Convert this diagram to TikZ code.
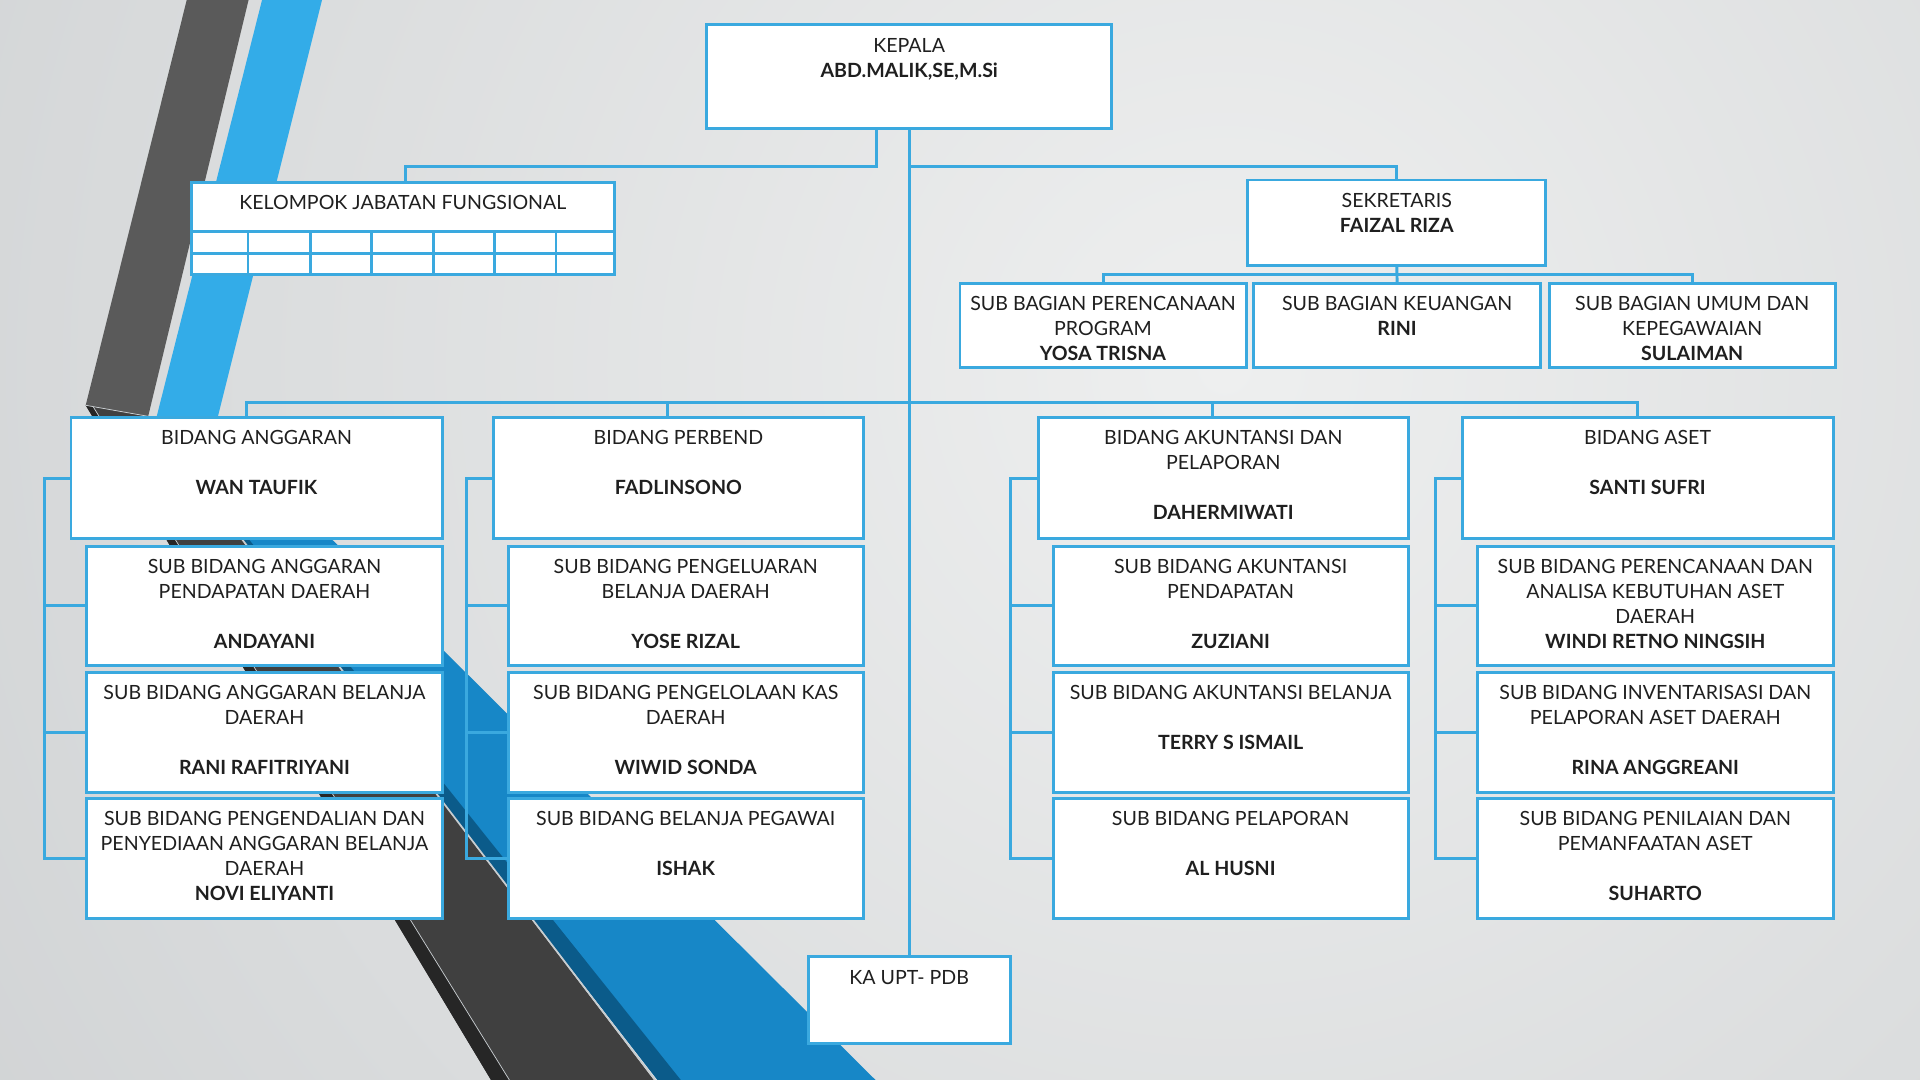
\documentclass[tikz,border=0pt]{standalone}
\usepackage{fontspec}
\setmainfont{Lato}
\definecolor{lb}{RGB}{58,169,223}
\definecolor{bgin}{RGB}{238,239,239}
\definecolor{bgout}{RGB}{178,182,185}
\definecolor{darkup}{RGB}{90,90,90}
\definecolor{darklow}{RGB}{64,64,64}
\definecolor{blackedge}{RGB}{38,38,38}
\definecolor{blueup}{RGB}{51,172,232}
\definecolor{bluelow}{RGB}{23,135,199}
\definecolor{blueedge}{RGB}{11,91,138}
\definecolor{sepline}{RGB}{200,205,208}
\tikzset{
  box/.style={draw=lb, line width=2.4pt, fill=white, inner sep=0pt, outer sep=0pt, anchor=north west},
  conn/.style={draw=lb, line width=2.4pt, line join=miter},
  txt/.style={align=center, inner sep=0pt, anchor=north, text=black!88,
    font=\fontsize{16}{20.4}\selectfont},
}
\newcommand\obox[5]{\node[box, minimum width={#4-#2}, minimum height={#5-#3}] (#1) at (#2,#3) {};}
\newcommand\otxt[2]{\node[txt] (#1-t) at ([yshift=-9.3pt]#1.north) {\rule{0pt}{13pt}#2};}
\newcommand\blank{\\\mbox{}\\}
\begin{document}
\begin{tikzpicture}[x=1pt,y=-1pt]
\useasboundingbox (0,0) rectangle (1568,882);
% ---------- backdrop ----------
\begin{scope}
\clip (0,0) rectangle (1568,882);
\fill[bgout] (0,0) rectangle (1568,882);
\shade[inner color=bgin, outer color=bgout] (1000,300) circle (2500);
% lower ribbon parts
\fill[bluelow] (120,345) -- (175,345) -- (715,882) -- (537,882) -- cycle;
\fill[blueedge] (120,345) -- (127,345) -- (556,882) -- (537,882) -- cycle;
\fill[darklow] (70,331) -- (121,340) -- (534,882) -- (401,882) -- cycle;
\fill[blackedge] (70,331) -- (76,332) -- (416,882) -- (401,882) -- cycle;
\draw[sepline, line width=0.6pt] (76,332) -- (416,882);
\draw[sepline, line width=1.4pt] (121,340) -- (535,882);
% upper ribbon parts
\fill[blueup] (214,0) -- (263,0) -- (178,340) -- (128,340) -- cycle;
\fill[darkup] (152.5,0) -- (203,0) -- (121,340) -- (70,331) -- cycle;
\draw[sepline, line width=0.6pt] (70,331) -- (121,340);
\end{scope}
% ---------- boxes ----------
\obox{kepala}{577}{20}{908}{105}
\obox{kjf}{156.5}{149}{501.5}{224.5}
\obox{sek}{1019}{147}{1262.5}{216.5}
\obox{sb1}{784}{231.3}{1017.6}{300.2}
\obox{sb2}{1023.5}{231.3}{1258.4}{300.2}
\obox{sb3}{1265.3}{231.3}{1498.6}{300.2}
\obox{upt}{660}{781.5}{825}{852.5}
% columns
\obox{b1}{58}{340.8}{361}{440}
\obox{s11}{71}{446}{361}{543.7}
\obox{s12}{71}{549}{361}{647}
\obox{s13}{71}{651.8}{361}{749.8}
\obox{b2}{403}{340.8}{705}{440}
\obox{s21}{415}{446}{705}{543.7}
\obox{s22}{415}{549}{705}{647}
\obox{s23}{415}{651.8}{705}{749.8}
\obox{b3}{848}{340.8}{1150}{440}
\obox{s31}{860}{446}{1150}{543.7}
\obox{s32}{860}{549}{1150}{647}
\obox{s33}{860}{651.8}{1150}{749.8}
\obox{b4}{1194}{340.8}{1497}{440}
\obox{s41}{1206.6}{446}{1497}{543.7}
\obox{s42}{1206.6}{549}{1497}{647}
\obox{s43}{1206.6}{651.8}{1497}{749.8}
% grid inside Kelompok Jabatan Fungsional
\draw[lb, line width=2.2pt] (kjf.west |- 0,189) -- (kjf.east |- 0,189);
\draw[lb, line width=2.2pt] (kjf.west |- 0,207) -- (kjf.east |- 0,207);
\foreach \gx in {202.5,253.6,303.6,354.1,404.1,454.1}
  \draw[lb, line width=2.2pt] (\gx,189) -- (kjf.south -| \gx,0);
% ---------- connectors ----------
\coordinate (ky) at (0,136);
\coordinate (kx) at (716,0);
\coordinate (kjfx) at (331,0);
\coordinate (sby) at (0,224);
\coordinate (busy) at (0,329);
\coordinate (d1) at (201,0);
\coordinate (d2) at (545,0);
\coordinate (d3) at (990,0);
\coordinate (d4) at (1337,0);
\coordinate (r1) at (36,0);
\coordinate (r2) at (381,0);
\coordinate (r3) at (825,0);
\coordinate (r4) at (1172,0);
\draw[conn] (kepala.south -| kx) -- (kx |- ky) -- (kjfx |- ky) -- (kjf.north -| kjfx);
\draw[conn] (kepala.south) -- (upt.north);
\draw[conn] (kepala.south |- ky) -| (sek.north);
\draw[conn] (sek.south) -- (sb2.north);
\draw[conn] (sb1.north) -- (sb1.north |- sby) -- (sb3.north |- sby) -- (sb3.north);
\draw[conn] (b1.north -| d1) -- (d1 |- busy) -- (d4 |- busy) -- (b4.north -| d4);
\draw[conn] (d2 |- busy) -- (b2.north -| d2);
\draw[conn] (d3 |- busy) -- (b3.north -| d3);
\foreach \c/\r in {1/r1,2/r2,3/r3,4/r4}{
  \draw[conn] (b\c.west) -- (\r |- b\c.west) -- (\r |- s\c3.west) -- (s\c3.west);
  \draw[conn] (\r |- s\c1.west) -- (s\c1.west);
  \draw[conn] (\r |- s\c2.west) -- (s\c2.west);
}
% ---------- texts ----------
\otxt{kepala}{KEPALA\\\textbf{ABD.MALIK,SE,M.Si}}
\otxt{kjf}{KELOMPOK JABATAN FUNGSIONAL}
\otxt{sek}{SEKRETARIS\\\textbf{FAIZAL RIZA}}
\otxt{sb1}{SUB BAGIAN PERENCANAAN\\PROGRAM\\\textbf{YOSA TRISNA}}
\otxt{sb2}{SUB BAGIAN KEUANGAN\\\textbf{RINI}}
\otxt{sb3}{SUB BAGIAN UMUM DAN\\KEPEGAWAIAN\\\textbf{SULAIMAN}}
\otxt{upt}{KA UPT- PDB}
\otxt{b1}{BIDANG ANGGARAN\blank\textbf{WAN TAUFIK}}
\otxt{s11}{SUB BIDANG ANGGARAN\\PENDAPATAN DAERAH\blank\textbf{ANDAYANI}}
\otxt{s12}{SUB BIDANG ANGGARAN BELANJA\\DAERAH\blank\textbf{RANI RAFITRIYANI}}
\otxt{s13}{SUB BIDANG PENGENDALIAN DAN\\PENYEDIAAN ANGGARAN BELANJA\\DAERAH\\\textbf{NOVI ELIYANTI}}
\otxt{b2}{BIDANG PERBEND\blank\textbf{FADLINSONO}}
\otxt{s21}{SUB BIDANG PENGELUARAN\\BELANJA DAERAH\blank\textbf{YOSE RIZAL}}
\otxt{s22}{SUB BIDANG PENGELOLAAN KAS\\DAERAH\blank\textbf{WIWID SONDA}}
\otxt{s23}{SUB BIDANG BELANJA PEGAWAI\blank\textbf{ISHAK}}
\otxt{b3}{BIDANG AKUNTANSI DAN\\PELAPORAN\blank\textbf{DAHERMIWATI}}
\otxt{s31}{SUB BIDANG AKUNTANSI\\PENDAPATAN\blank\textbf{ZUZIANI}}
\otxt{s32}{SUB BIDANG AKUNTANSI BELANJA\blank\textbf{TERRY S ISMAIL}}
\otxt{s33}{SUB BIDANG PELAPORAN\blank\textbf{AL HUSNI}}
\otxt{b4}{BIDANG ASET\blank\textbf{SANTI SUFRI}}
\otxt{s41}{SUB BIDANG PERENCANAAN DAN\\ANALISA KEBUTUHAN ASET\\DAERAH\\\textbf{WINDI RETNO NINGSIH}}
\otxt{s42}{SUB BIDANG INVENTARISASI DAN\\PELAPORAN ASET DAERAH\blank\textbf{RINA ANGGREANI}}
\otxt{s43}{SUB BIDANG PENILAIAN DAN\\PEMANFAATAN ASET\blank\textbf{SUHARTO}}
\end{tikzpicture}
\end{document}
